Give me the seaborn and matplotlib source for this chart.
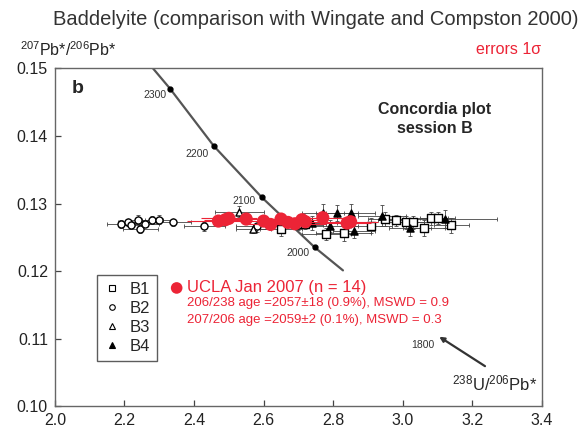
# Concordia plot, session B (Tera-Wasserburg)
import pandas as pd
import matplotlib
matplotlib.use('Agg')
import matplotlib.pyplot as plt
from matplotlib.lines import Line2D
import seaborn as sns

# UCLA Jan 2007 analyses (red)
ucla_x = [2.47, 2.49, 2.50, 2.55, 2.60, 2.62, 2.65, 2.67, 2.69, 2.71, 2.72, 2.77, 2.84, 2.85]
ucla_y = [0.1274, 0.1276, 0.1278, 0.1277, 0.1274, 0.1269, 0.1277, 0.1272, 0.1270, 0.1276,
          0.1273, 0.1279, 0.1271, 0.1273]
ucla_xerr = [0.09, 0.06, 0.08, 0.07, 0.06, 0.08, 0.07, 0.06, 0.09, 0.07, 0.06, 0.08, 0.07, 0.08]

# Wingate and Compston 2000 groups
b1_x = [2.65, 2.72, 2.78, 2.83, 2.91, 2.95, 2.98, 3.01, 3.03, 3.06, 3.08, 3.10, 3.14]
b1_y = [0.1262, 0.1270, 0.1255, 0.1257, 0.1267, 0.1277, 0.1275, 0.1272, 0.1272, 0.1264,
        0.1278, 0.1278, 0.1268]
b1_xerr = [0.06, 0.06, 0.07, 0.08, 0.06, 0.05, 0.05, 0.05, 0.06, 0.06, 0.05, 0.05, 0.05]
b1_yerr = [0.0010, 0.0008, 0.0009, 0.0012, 0.0011, 0.0010, 0.0008, 0.0009, 0.0010, 0.0012,
           0.0010, 0.0009, 0.0011]

b2_x = [2.19, 2.21, 2.22, 2.24, 2.245, 2.26, 2.28, 2.30, 2.34, 2.43, 2.58, 2.70]
b2_y = [0.1270, 0.1272, 0.1268, 0.1276, 0.1262, 0.1270, 0.1275, 0.1276, 0.1272, 0.1266,
        0.1266, 0.1268]
b2_xerr = [0.04, 0.03, 0.04, 0.03, 0.05, 0.04, 0.03, 0.04, 0.05, 0.06, 0.06, 0.07]
b2_yerr = [0.0006, 0.0005, 0.0006, 0.0007, 0.0006, 0.0005, 0.0006, 0.0007, 0.0005, 0.0006,
           0.0008, 0.0007]

b3_x = [2.53, 2.57]
b3_y = [0.1288, 0.1263]
b3_xerr = [0.07, 0.05]
b3_yerr = [0.0008, 0.0006]

b4_x = [2.74, 2.77, 2.79, 2.81, 2.85, 2.86, 2.94, 3.02, 3.12]
b4_y = [0.1271, 0.1286, 0.1267, 0.1286, 0.1286, 0.1260, 0.1282, 0.1264, 0.1277]
b4_xerr = [0.07, 0.06, 0.08, 0.06, 0.07, 0.06, 0.07, 0.06, 0.15]
b4_yerr = [0.0010, 0.0014, 0.0009, 0.0012, 0.0013, 0.0011, 0.0016, 0.0012, 0.0013]

# concordia curve
conc_x = [2.282, 2.331, 2.457, 2.595, 2.747, 2.828]
conc_y = [0.150, 0.147, 0.1385, 0.1309, 0.1235, 0.1201]
conc_tail_x = [3.243, 3.098]
conc_tail_y = [0.1057, 0.1105]
age_dot_x = [2.331, 2.457, 2.595, 2.747]
age_dot_y = [0.147, 0.1385, 0.1309, 0.1235]
age_labels = ['2300', '2200', '2100', '2000', '1800']
age_label_x = [2.288, 2.409, 2.543, 2.698, 3.058]
age_label_y = [0.1460, 0.1373, 0.1303, 0.1227, 0.1091]

sns.set_style('ticks')
plt.rcParams['font.family'] = ['Liberation Sans', 'DejaVu Sans']
plt.rcParams['mathtext.fontset'] = 'custom'
plt.rcParams['mathtext.rm'] = 'Liberation Sans'
plt.rcParams['mathtext.it'] = 'Liberation Sans:italic'

RED = '#ec2436'

fig = plt.figure(figsize=(5.84, 4.33), dpi=100)
ax = fig.add_axes([0.094, 0.062, 0.834, 0.780])

# concordia
sns.lineplot(x=conc_x, y=conc_y, ax=ax, color='#555555', lw=1.6, sort=False)
ax.annotate('', xy=(conc_tail_x[1], conc_tail_y[1]), xytext=(conc_tail_x[0], conc_tail_y[0]),
            arrowprops=dict(arrowstyle='-|>', color='#333333', lw=1.6, mutation_scale=7))
ax.plot(age_dot_x, age_dot_y, 'o', color='black', ms=3.5, zorder=3)
for lab, lx, ly in zip(age_labels, age_label_x, age_label_y):
    ax.text(lx, ly, lab, fontsize=7.5, color='#333333', ha='center', va='center')

# error bars for the literature groups
groups = [('B1', b1_x, b1_y, b1_xerr, b1_yerr, 's', 'white'),
          ('B2', b2_x, b2_y, b2_xerr, b2_yerr, 'o', 'white'),
          ('B3', b3_x, b3_y, b3_xerr, b3_yerr, '^', 'white'),
          ('B4', b4_x, b4_y, b4_xerr, b4_yerr, '^', 'black')]
rows = []
for name, gx, gy, gxe, gye, mk, fc in groups:
    ax.errorbar(gx, gy, xerr=gxe, yerr=gye, fmt='none', ecolor='#444444',
                elinewidth=0.6, capsize=1.2, capthick=0.6, zorder=2)
    for xv, yv in zip(gx, gy):
        rows.append({'x': xv, 'y': yv, 'group': name})
df = pd.DataFrame(rows)

for name, gx, gy, gxe, gye, mk, fc in groups:
    sub = df[df['group'] == name]
    sns.scatterplot(data=sub, x='x', y='y', ax=ax, marker=mk, s=26,
                    facecolor=fc, edgecolor='black', linewidth=1.0, zorder=3)

# UCLA red points
ax.errorbar(ucla_x, ucla_y, xerr=ucla_xerr, fmt='none', ecolor=RED, elinewidth=0.8, zorder=4)
sns.scatterplot(x=ucla_x, y=ucla_y, ax=ax, color=RED, s=90, edgecolor='none', zorder=5)

ax.set_xlim(2.0, 3.4)
ax.set_ylim(0.10, 0.15)
ax.set_xticks([2.0, 2.2, 2.4, 2.6, 2.8, 3.0, 3.2, 3.4])
ax.set_xticklabels(['2.0', '2.2', '2.4', '2.6', '2.8', '3.0', '3.2', '3.4'])
ax.set_yticks([0.10, 0.11, 0.12, 0.13, 0.14, 0.15])
ax.set_yticklabels(['0.10', '0.11', '0.12', '0.13', '0.14', '0.15'])
ax.tick_params(direction='in', length=4, width=0.9, labelsize=11.5, colors='#444444',
               labelcolor='#222222', pad=5)
for sp in ax.spines.values():
    sp.set_color('#666666')
    sp.set_linewidth(1.0)
ax.set_xlabel('')
ax.set_ylabel('')

# legend for literature groups
handles = [Line2D([], [], marker='s', ls='none', mfc='white', mec='black', ms=4, mew=0.8),
           Line2D([], [], marker='o', ls='none', mfc='white', mec='black', ms=4, mew=0.8),
           Line2D([], [], marker='^', ls='none', mfc='white', mec='black', ms=4, mew=0.8),
           Line2D([], [], marker='^', ls='none', mfc='black', mec='black', ms=4, mew=0.8)]
leg = ax.legend(handles, ['B1', 'B2', 'B3', 'B4'], loc='lower left',
                bbox_to_anchor=(0.086, 0.134), fontsize=12, frameon=True, fancybox=False,
                edgecolor='#333333', handlelength=1.0, handletextpad=0.6,
                labelspacing=0.25, borderpad=0.4, borderaxespad=0)
leg.get_frame().set_linewidth(1.0)

# UCLA annotation
ax.scatter([0.250], [0.350], transform=ax.transAxes, s=70, color=RED, edgecolor='none',
           clip_on=False)
ax.text(0.272, 0.350, 'UCLA Jan 2007 (n = 14)', transform=ax.transAxes, color=RED,
        fontsize=12, va='center')
ax.text(0.272, 0.305, '206/238 age =2057±18 (0.9%), MSWD = 0.9', transform=ax.transAxes,
        color=RED, fontsize=9.5, va='center')
ax.text(0.272, 0.255, '207/206 age =2059±2 (0.1%), MSWD = 0.3', transform=ax.transAxes,
        color=RED, fontsize=9.5, va='center')

ax.text(0.035, 0.94, 'b', transform=ax.transAxes, fontsize=14, fontweight='bold', va='center')
ax.text(0.78, 0.85, 'Concordia plot\nsession B', transform=ax.transAxes, fontsize=11.5,
        fontweight='bold', ha='center', va='center', linespacing=1.3)
ax.text(0.99, 0.068, r'$^{\mathrm{238}}$U/$^{\mathrm{206}}$Pb*',
        transform=ax.transAxes, fontsize=12, ha='right', va='center')

fig.text(0.54, 0.955, 'Baddelyite (comparison with Wingate and Compston 2000)',
         fontsize=14.5, ha='center', va='center', color='#333333')
fig.text(0.035, 0.885, r'$^{\mathrm{207}}$Pb*/$^{\mathrm{206}}$Pb*',
         fontsize=11.5, ha='left', va='center', color='#222222')
fig.text(0.927, 0.885, 'errors 1σ', fontsize=11.5, ha='right', va='center', color=RED)

fig.savefig('out.png', dpi=100)
